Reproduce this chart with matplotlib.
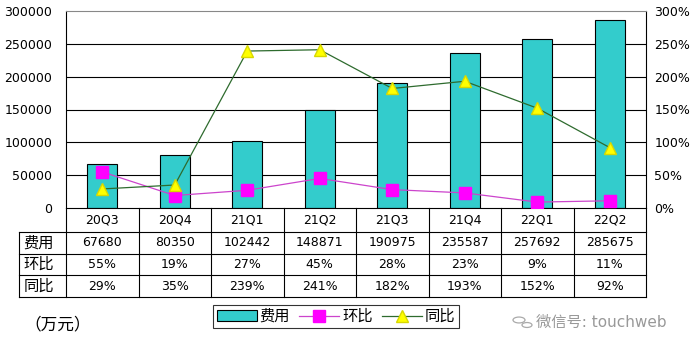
import matplotlib
matplotlib.use('Agg')
import matplotlib.pyplot as plt
from matplotlib.patches import Patch, Circle
from matplotlib.lines import Line2D
import numpy as np

plt.rcParams['font.family'] = ['DejaVu Sans', 'Noto Sans CJK SC']

# 季度费用（万元）及环比、同比增速
quarters = ['20Q3', '20Q4', '21Q1', '21Q2', '21Q3', '21Q4', '22Q1', '22Q2']
cost = [67680, 80350, 102442, 148871, 190975, 235587, 257692, 285675]
qoq = [55, 19, 27, 45, 28, 23, 9, 11]
yoy = [29, 35, 239, 241, 182, 193, 152, 92]

W, H = 700, 345
fig = plt.figure(figsize=(7, 3.45), dpi=100)

def px(x0, y0, x1, y1):
    # 像素坐标 -> 图形坐标
    return [x0 / W, 1 - y1 / H, (x1 - x0) / W, (y1 - y0) / H]

ax = fig.add_axes(px(66, 11, 646, 208))
x = np.arange(len(quarters))
ax.bar(x, cost, width=0.41, color='#33CCCC', edgecolor='black', linewidth=0.8, zorder=2)
ax.set_xlim(-0.5, len(quarters) - 0.5)
ax.set_ylim(0, 300000)
ax.set_yticks(np.arange(0, 300001, 50000))
ax.set_yticklabels([str(v) for v in range(0, 300001, 50000)], fontsize=9)
ax.set_xticks([])
ax.tick_params(axis='y', length=0, pad=10)
for v in range(50000, 300000, 50000):
    ax.axhline(v, color='black', linewidth=0.8, zorder=1)
ax.spines['top'].set_color('#888888')
ax.spines['top'].set_linewidth(0.8)
for s in ['left', 'bottom', 'right']:
    ax.spines[s].set_linewidth(0.8)

ax2 = ax.twinx()
ax2.set_ylim(0, 300)
ax2.set_yticks(np.arange(0, 301, 50))
ax2.set_yticklabels([f'{v}%' for v in range(0, 301, 50)], fontsize=9)
ax2.tick_params(axis='y', length=0, pad=6)
ax2.plot(x, qoq, color='#CC44CC', linewidth=0.9, marker='s', markersize=8.5,
         markerfacecolor='#FF00FF', markeredgecolor='#FF00FF', zorder=3)
ax2.plot(x, yoy, color='#2E6B2E', linewidth=0.9, marker='^', markersize=9,
         markerfacecolor='#FFFF00', markeredgecolor='#D8D800', zorder=3)
for s in ax2.spines.values():
    s.set_visible(False)

# 数据表
left_px = 19
cw = (646 - 66) / len(quarters)
tax = fig.add_axes(px(left_px, 208, 646, 297))
tax.set_xlim(-0.5 - (66 - left_px) / cw, len(quarters) - 0.5)
tax.set_ylim(0, 89)
tax.axis('off')
lw = 0.8
rows = [89, 65, 43, 22, 0]
xl = -0.5 - (66 - left_px) / cw
xr = len(quarters) - 0.5

def tline(xs, ys):
    tax.plot(xs, ys, color='black', lw=lw, clip_on=False, solid_capstyle='projecting')

for i in range(len(quarters) + 1):
    tline([i - 0.5, i - 0.5], [0, 89])
tline([xl, xl], [0, 65])
for r in rows[1:]:
    tline([xl, xr], [r, r])
for i, q in enumerate(quarters):
    tax.text(i, 77, q, ha='center', va='center', fontsize=9)

labels = ['费用', '环比', '同比']
values = [[str(v) for v in cost], [f'{v}%' for v in qoq], [f'{v}%' for v in yoy]]
for k, (lab, vals) in enumerate(zip(labels, values)):
    yc = (rows[k + 1] + rows[k + 2]) / 2
    tax.text(xl + 0.06, yc, lab, ha='left', va='center', fontsize=11)
    for i, v in enumerate(vals):
        tax.text(i, yc, v, ha='center', va='center', fontsize=9)

fig.text(24 / W, 1 - 325 / H, '（万元）', ha='left', va='center', fontsize=12,
         family='Noto Sans CJK SC')

handles = [Patch(facecolor='#33CCCC', edgecolor='black', linewidth=0.8),
           Line2D([], [], color='#CC44CC', lw=0.9, marker='s', markersize=8,
                  markerfacecolor='#FF00FF', markeredgecolor='#FF00FF'),
           Line2D([], [], color='#2E6B2E', lw=0.9, marker='^', markersize=8,
                  markerfacecolor='#FFFF00', markeredgecolor='#D8D800')]
leg = fig.legend(handles, ['费用', '环比', '同比'], ncol=3, loc='center',
                 bbox_to_anchor=(336 / W, 1 - 316.5 / H), fontsize=11,
                 frameon=True, fancybox=False, edgecolor='black', handlelength=2.6,
                 handletextpad=0.2, columnspacing=0.6, borderpad=0.25,
                 borderaxespad=0)
leg.get_frame().set_linewidth(0.8)

# 水印
fig.patches.append(Circle((519 / W, 1 - 320 / H), 6 / W, transform=fig.transFigure,
                          fill=False, edgecolor='#AAAAAA', lw=0.9))
fig.patches.append(Circle((527 / W, 1 - 325 / H), 5 / W, transform=fig.transFigure,
                          fill=False, edgecolor='#AAAAAA', lw=0.9))
fig.text(536 / W, 1 - 322 / H, '微信号: touchweb', ha='left', va='center',
         fontsize=11, color='#999999')

fig.savefig('out.png', dpi=100)
